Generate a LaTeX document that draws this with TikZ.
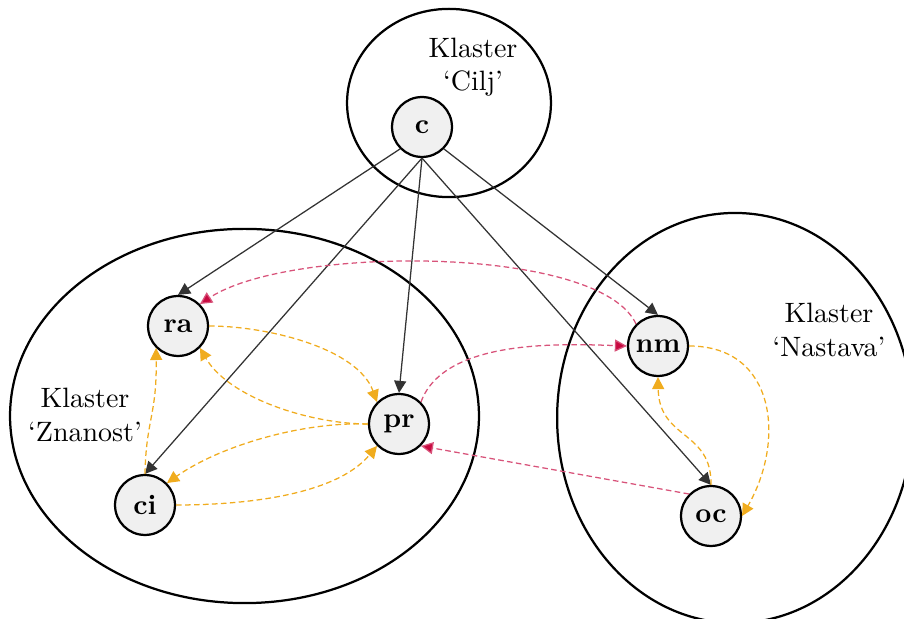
\documentclass[tikz,border=0pt]{standalone}
\usepackage{amsmath}
\usepackage{xcolor}
\usepackage{tikz}
\usetikzlibrary{
  arrows.meta,
  positioning
}
\definecolor{zuta}{RGB}{240,172,30}
\definecolor{crvena}{RGB}{200,10,65}

\begin{document}
\begin{tikzpicture}[x=0.357pt, y=-0.357pt,
    vertex/.style={circle, draw, thick, fill=black!6, minimum size=21.4pt, inner sep=0pt, font=\bfseries},
    cluster/.style={draw, thick},
    clabel/.style={align=center, inner sep=0pt},
    link/.style={-{Triangle[length=4.3pt, width=4.3pt]}, black!80, line width=0.45pt},
    inner/.style={-{Triangle[length=4.3pt, width=4.3pt]}, zuta, line width=0.45pt, dash pattern=on 2pt off 1.2pt},
    outer/.style={-{Triangle[length=4.3pt, width=4.3pt, fill=crvena]}, crvena!70, line width=0.45pt, dash pattern=on 2pt off 1.2pt}]
\useasboundingbox (0,0) rectangle (904,619);
% klasteri
\draw [cluster] (449,103) ellipse [x radius=36.4pt, y radius=33.6pt];
\draw [cluster] (244.5,416) ellipse [x radius=83.7pt, y radius=66.8pt];
\draw [cluster] (735,418) ellipse [x radius=63.5pt, y radius=73.2pt];
\node [clabel] (lc) at (473,67) {Klaster\\`Cilj'};
\node [clabel] (lz) at (85,415) {Klaster\\`Znanost'};
\node [clabel] (ln) at (829,330) {Klaster\\`Nastava'};
% cvorovi
\node [vertex] (c) at (422,127) {c};
\node [vertex] (ra) at (178,326) {ra};
\node [vertex] (pr) at (399,424) {pr};
\node [vertex] (ci) at (145,505) {ci};
\node [vertex] (nm) at (658,346) {nm};
\node [vertex] (oc) at (711,516) {oc};
% cilj -> kriteriji
\draw [link] (c.south west) -- (ra.north);
\draw [link] (c.south) -- (ci.north);
\draw [link] (c.south) -- (pr.north);
\draw [link] (c.south) -- (oc.north);
\draw [link] (c.south east) -- (nm.north);
% unutar klastera
\draw [inner] (ra.east) to[out=0, in=110, looseness=0.8] (pr.north west);
\draw [inner] (pr.west) to[out=180, in=-60, looseness=0.8] (ra.south east);
\draw [inner] (pr.west) to[out=178, in=35, looseness=0.8] (ci.north east);
\draw [inner] (ci.east) to[out=0, in=-130, looseness=0.8] (pr.south west);
\draw [inner] (ci.north) .. controls (146,420) and (157,415) .. (ra.south west);
\draw [inner] (nm.east) to[out=0, in=60, looseness=1.25] (oc.east);
\draw [inner] (oc.north) .. controls (712,430) and (659,440) .. (nm.south);
% izmedu klastera
\draw [outer] (nm.north west) .. controls (600,245) and (290,245) .. (ra.north east);
\draw [outer] (pr.north east) to[out=70, in=178, looseness=0.8] (nm.west);
\draw [outer] (oc.north west) -- (pr.south east);
\end{tikzpicture}
\end{document}
